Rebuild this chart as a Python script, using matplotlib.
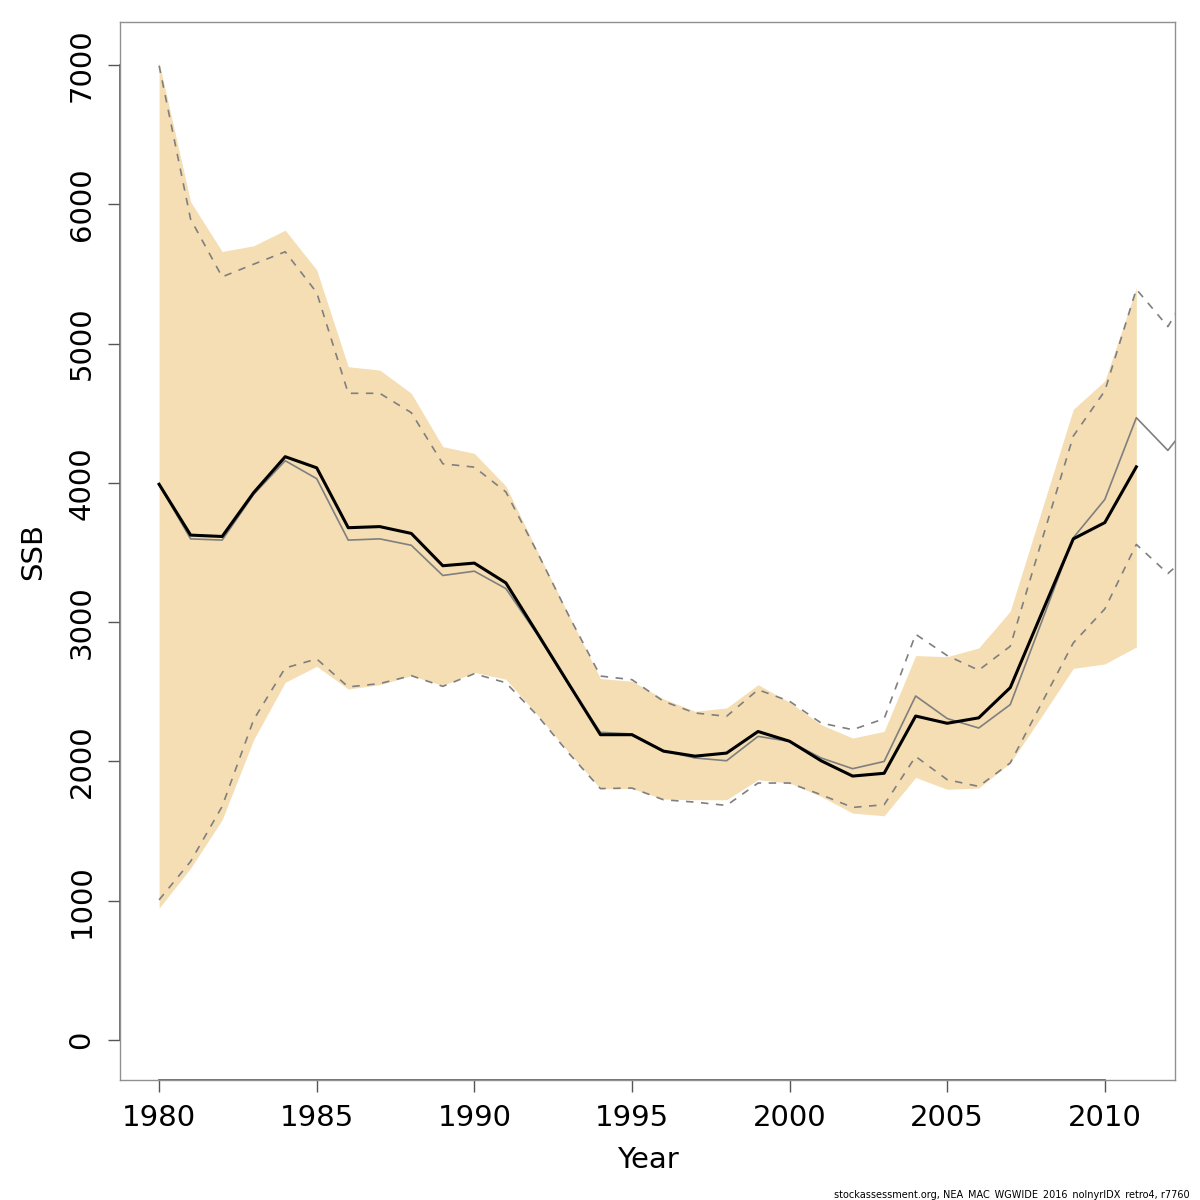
import numpy as np
import matplotlib
matplotlib.use('Agg')
import matplotlib.pyplot as plt

# ---------- data
years = list(range(1980, 2012))
ssb = [3990, 3625, 3615, 3930, 4188, 4108, 3678, 3686, 3637, 3405,
       3424, 3282, 2920, 2555, 2192, 2192, 2074, 2038, 2060, 2215,
       2145, 2005, 1895, 1915, 2326, 2274, 2313, 2530, 3065, 3598,
       3715, 4115]
ssb_hi = [7020, 6018, 5661, 5702, 5814, 5529, 4834, 4810, 4643, 4260,
          4212, 3977, 3510, 3050, 2595, 2576, 2450, 2360, 2384, 2551,
          2425, 2264, 2168, 2216, 2760, 2752, 2815, 3079, 3805, 4528,
          4732, 5402]
ssb_lo = [946, 1234, 1581, 2156, 2568, 2683, 2520, 2551, 2616, 2545,
          2640, 2590, 2335, 2065, 1805, 1805, 1730, 1725, 1725, 1869,
          1845, 1749, 1629, 1610, 1885, 1800, 1809, 1989, 2325, 2668,
          2700, 2822]

# retro / base run (goes on past the right edge)
years_b = list(range(1980, 2014))
base = [3989, 3598, 3589, 3917, 4159, 4030, 3589, 3598, 3552, 3335,
        3366, 3241, 2910, 2548, 2209, 2197, 2077, 2025, 2005, 2180,
        2144, 2025, 1948, 2000, 2470, 2308, 2240, 2408, 3005, 3606,
        3881, 4468, 4233, 4520]
base_hi = [6995, 5893, 5479, 5570, 5659, 5366, 4643, 4643, 4504, 4137,
           4113, 3935, 3500, 3045, 2613, 2587, 2432, 2348, 2324, 2515,
           2432, 2276, 2228, 2307, 2913, 2760, 2655, 2827, 3585, 4336,
           4660, 5390, 5122, 5500]
base_lo = [1006, 1282, 1677, 2300, 2671, 2736, 2535, 2559, 2616, 2539,
           2630, 2565, 2330, 2058, 1805, 1809, 1725, 1708, 1684, 1845,
           1845, 1761, 1670, 1689, 2036, 1869, 1821, 1989, 2420, 2851,
           3095, 3558, 3349, 3550]

x_ticks = [1980, 1985, 1990, 1995, 2000, 2005, 2010]
y_ticks = [0, 1000, 2000, 3000, 4000, 5000, 6000, 7000]
footer = 'stockassessment.org, NEA_MAC_WGWIDE_2016_nolnyrIDX_retro4, r7760'

# ---------- plot
plt.rcParams['font.family'] = ['DejaVu Sans']
fig = plt.figure(figsize=(12, 12), dpi=100)
ax = fig.add_axes([0.1, 0.1, 0.879, 0.8817])

ax.fill_between(years, ssb_lo, ssb_hi, color='#F5DEB3', linewidth=0)
ax.plot(years_b, base_hi, color='#7f7f7f', lw=1.2, linestyle=(0, (4.5, 4.5)))
ax.plot(years_b, base_lo, color='#7f7f7f', lw=1.2, linestyle=(0, (4.5, 4.5)))
ax.plot(years_b, base, color='#7f7f7f', lw=1.2)
ax.plot(years, ssb, color='black', lw=2.2)

xl = (1978.76, 2012.22)
yl = (-287, 7309)
ax.set_xlim(xl)
ax.set_ylim(yl)

ax.set_xticks(x_ticks)
ax.set_yticks(y_ticks)
ax.tick_params(axis='both', length=8.6, width=1, color='#555555',
               labelsize=21, pad=9)
for lab in ax.get_yticklabels():
    lab.set_rotation(90)
    lab.set_va('center')

for s in ax.spines.values():
    s.set_color('#909090')
    s.set_linewidth(1)

# axis lines (first to last tick), darker than the box
ax.plot([xl[0], xl[0]], [y_ticks[0], y_ticks[-1]], color='#555555', lw=1.2,
        clip_on=False)
ax.plot([x_ticks[0], x_ticks[-1]], [yl[0], yl[0]], color='#555555', lw=1.2,
        clip_on=False)

fig.text(647.5 / 1200, 1 - 1160 / 1200, 'Year', ha='center', va='center',
         fontsize=21)
fig.text(33 / 1200, 1 - 551 / 1200, 'SSB', ha='center', va='center',
         fontsize=21, rotation=90)
fig.text(1190 / 1200, 1 - 1195 / 1200, footer, ha='right', va='center',
         fontsize=7.0)

fig.savefig('out.png', dpi=100)
